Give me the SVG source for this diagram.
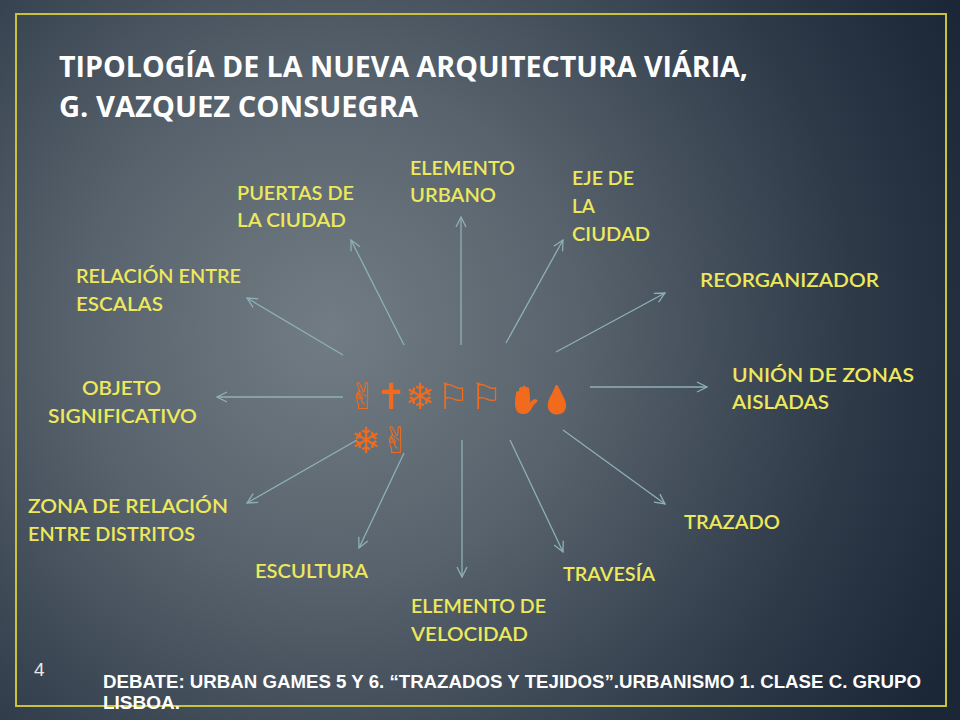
<svg xmlns="http://www.w3.org/2000/svg" width="960" height="720" viewBox="0 0 960 720">
  <defs>
    <radialGradient id="bg" cx="330" cy="330" r="700" gradientUnits="userSpaceOnUse">
      <stop offset="0" stop-color="#717c84"/>
      <stop offset="0.35" stop-color="#58636d"/>
      <stop offset="0.75" stop-color="#2e3a48"/>
      <stop offset="1" stop-color="#1b2636"/>
    </radialGradient>
    <filter id="orange" x="-10%" y="-10%" width="120%" height="120%" color-interpolation-filters="sRGB">
      <feColorMatrix type="matrix" values="0 0 0 0 0.949  0 0 0 0 0.42  0 0 0 0 0.114  0 0 0 1 0"/>
    </filter>
    <marker id="arr" viewBox="0 0 12 12" refX="11" refY="6" markerWidth="12" markerHeight="12" markerUnits="userSpaceOnUse" orient="auto">
      <path d="M1,1 L11,6 L1,11" fill="none" stroke="#8fb0b8" stroke-width="1.3"/>
    </marker>
    <style>
      .lbl { font-family: Lato, "Open Sans", "DejaVu Sans", sans-serif; font-size: 20px; fill: #ede85c; font-weight: 600; }
      .ttl { font-family: "Open Sans", "Liberation Sans", sans-serif; font-size: 28px; fill: #ffffff; font-weight: 700; }
      .ftr { font-family: "Liberation Sans Narrow", "Liberation Sans", sans-serif; font-size: 18px; fill: #ffffff; font-weight: 700; }
      .num { font-family: "Liberation Sans Narrow", "Liberation Sans", sans-serif; font-size: 19px; fill: #e8e8e8; }
      .sym { font-family: "DejaVu Sans", "Noto Sans", sans-serif; font-size: 36px; fill: #f26b1d; }
      .emo { font-size: 27px; }
      .conn line { stroke: #8fb0b8; stroke-width: 1.3; marker-end: url(#arr); }
    </style>
  </defs>
  <rect x="0" y="0" width="960" height="720" fill="url(#bg)"/>
  <rect x="16" y="14" width="930" height="692" fill="none" stroke="#c9c23a" stroke-width="2"/>

  <g id="title">
    <text class="ttl" x="59" y="77" textLength="689" lengthAdjust="spacingAndGlyphs">TIPOLOGÍA DE LA NUEVA ARQUITECTURA VIÁRIA,</text>
    <text class="ttl" x="59" y="117" textLength="359" lengthAdjust="spacingAndGlyphs">G. VAZQUEZ CONSUEGRA</text>
  </g>

  <g id="connectors" class="conn">
    <line x1="404" y1="345" x2="351" y2="240"/>
    <line x1="461" y1="345" x2="461" y2="217"/>
    <line x1="506" y1="343" x2="563" y2="240"/>
    <line x1="556" y1="352" x2="665" y2="293"/>
    <line x1="343" y1="355" x2="247" y2="298"/>
    <line x1="343" y1="397" x2="217" y2="397"/>
    <line x1="590" y1="387" x2="707" y2="387"/>
    <line x1="357" y1="440" x2="247" y2="503"/>
    <line x1="404" y1="453" x2="359" y2="548"/>
    <line x1="462" y1="440" x2="462" y2="577"/>
    <line x1="510" y1="440" x2="563" y2="552"/>
    <line x1="563" y1="430" x2="665" y2="504"/>
  </g>

  <g id="center" filter="url(#orange)">
    <text class="sym" y="409"><tspan x="348">✌</tspan><tspan x="376">✝</tspan><tspan x="405">❄</tspan><tspan x="437">⚐</tspan><tspan x="470">⚐</tspan><tspan x="508" class="emo">✋</tspan><tspan x="540" class="emo">💧</tspan></text>
    <text class="sym" y="453"><tspan x="351">❄</tspan><tspan x="381">✌</tspan></text>
  </g>

  <g id="n-puertas"><text class="lbl" x="237" y="200" textLength="117" lengthAdjust="spacingAndGlyphs">PUERTAS DE</text><text class="lbl" x="237" y="227" textLength="109" lengthAdjust="spacingAndGlyphs">LA CIUDAD</text></g>
  <g id="n-elemento-urbano"><text class="lbl" x="410" y="175" textLength="105" lengthAdjust="spacingAndGlyphs">ELEMENTO</text><text class="lbl" x="410" y="202" textLength="86" lengthAdjust="spacingAndGlyphs">URBANO</text></g>
  <g id="n-eje"><text class="lbl" x="572" y="185" textLength="62" lengthAdjust="spacingAndGlyphs">EJE DE</text><text class="lbl" x="572" y="213" textLength="23" lengthAdjust="spacingAndGlyphs">LA</text><text class="lbl" x="572" y="241" textLength="78" lengthAdjust="spacingAndGlyphs">CIUDAD</text></g>
  <g id="n-reorganizador"><text class="lbl" x="700" y="287" textLength="179" lengthAdjust="spacingAndGlyphs">REORGANIZADOR</text></g>
  <g id="n-relacion"><text class="lbl" x="76" y="283" textLength="165" lengthAdjust="spacingAndGlyphs">RELACIÓN ENTRE</text><text class="lbl" x="76" y="311" textLength="87" lengthAdjust="spacingAndGlyphs">ESCALAS</text></g>
  <g id="n-union"><text class="lbl" x="732" y="382" textLength="182" lengthAdjust="spacingAndGlyphs">UNIÓN DE ZONAS</text><text class="lbl" x="732" y="409" textLength="97" lengthAdjust="spacingAndGlyphs">AISLADAS</text></g>
  <g id="n-objeto"><text class="lbl" x="82" y="395" textLength="79" lengthAdjust="spacingAndGlyphs">OBJETO</text><text class="lbl" x="48" y="423" textLength="149" lengthAdjust="spacingAndGlyphs">SIGNIFICATIVO</text></g>
  <g id="n-zona"><text class="lbl" x="28" y="513" textLength="200" lengthAdjust="spacingAndGlyphs">ZONA DE RELACIÓN</text><text class="lbl" x="28" y="541" textLength="167" lengthAdjust="spacingAndGlyphs">ENTRE DISTRITOS</text></g>
  <g id="n-trazado"><text class="lbl" x="684" y="529" textLength="96" lengthAdjust="spacingAndGlyphs">TRAZADO</text></g>
  <g id="n-escultura"><text class="lbl" x="255" y="578" textLength="113" lengthAdjust="spacingAndGlyphs">ESCULTURA</text></g>
  <g id="n-travesia"><text class="lbl" x="563" y="581" textLength="92" lengthAdjust="spacingAndGlyphs">TRAVESÍA</text></g>
  <g id="n-velocidad"><text class="lbl" x="411" y="613" textLength="135" lengthAdjust="spacingAndGlyphs">ELEMENTO DE</text><text class="lbl" x="411" y="641" textLength="117" lengthAdjust="spacingAndGlyphs">VELOCIDAD</text></g>

  <g id="footer">
    <text class="num" x="34" y="676">4</text>
    <text class="ftr" x="103" y="688" textLength="818" lengthAdjust="spacingAndGlyphs">DEBATE: URBAN GAMES 5 Y 6. “TRAZADOS Y TEJIDOS”.URBANISMO 1. CLASE C. GRUPO</text>
    <text class="ftr" x="103" y="709" textLength="77" lengthAdjust="spacingAndGlyphs">LISBOA.</text>
  </g>
</svg>
